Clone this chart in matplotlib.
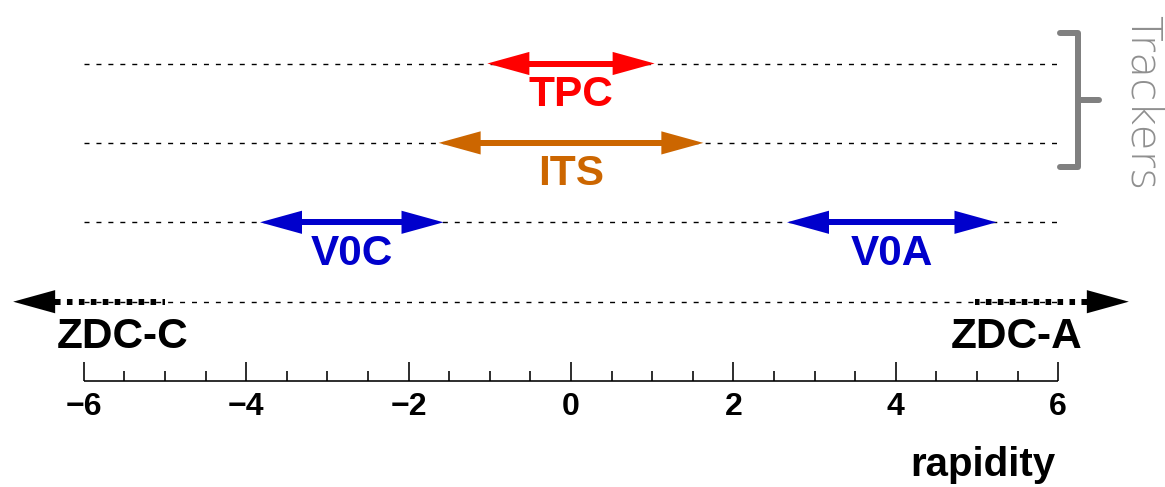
import matplotlib
matplotlib.use('Agg')
import matplotlib.pyplot as plt

plt.rcParams['lines.scale_dashes'] = False
plt.rcParams['font.family'] = ['Liberation Sans', 'DejaVu Sans']

# ---------------- data ----------------
detectors = ['TPC', 'ITS', 'V0C', 'V0A']
eta_min = [-1.03, -1.63, -3.83, 2.66]
eta_max = [1.03, 1.63, -1.57, 5.24]
det_row = [0, 1, 2, 2]
det_colors = ['#ff0000', '#cc6600', '#0000cc', '#0000cc']

zdc_labels = ['ZDC-C', 'ZDC-A']
zdc_inner = [-5.0, 4.98]
zdc_outer = [-6.35, 6.35]
zdc_tip = [-6.87, 6.87]
zdc_row = 3

major_ticks = [-6, -4, -2, 0, 2, 4, 6]
major_labels = ['\u22126', '\u22124', '\u22122', '0', '2', '4', '6']
minor_ticks = [-5.5, -5, -4.5, -3.5, -3, -2.5, -1.5, -1, -0.5,
               0.5, 1, 1.5, 2.5, 3, 3.5, 4.5, 5, 5.5]
x_range = [-6, 6]
axis_title = 'rapidity'
group_label = 'Trackers'

# ---------------- layout ----------------
W, H = 1165, 487
PPU = 81.2      # pixels per rapidity unit
X0 = 571        # pixel of rapidity 0
PT = 0.72       # points per pixel at dpi 100


def px2x(p):
    return (p - X0) / PPU


def row_y(r):
    return 63.5 + 79.4 * r


AXIS_Y = 381
HEAD_LEN = 42 / PPU
HEAD_HW = 11.6

fig = plt.figure(figsize=(W / 100, H / 100), dpi=100)
ax = fig.add_axes([0, 0, 1, 1])
ax.set_xlim(px2x(0), px2x(W))
ax.set_ylim(H, 0)
ax.axis('off')


def head(tip, direction, y, color):
    base = tip - direction * HEAD_LEN
    ax.fill([tip, base, base], [y, y - HEAD_HW, y + HEAD_HW],
            color=color, lw=0, zorder=4)


# dashed guide lines
for r in range(4):
    ax.plot(x_range, [row_y(r)] * 2, color='black', lw=1.0,
            linestyle=(0, (3.6, 5.0)), dash_capstyle='butt', zorder=1)

# detector arrows
for name, lo, hi, r, c in zip(detectors, eta_min, eta_max, det_row, det_colors):
    y = row_y(r)
    ax.plot([lo + HEAD_LEN * 0.5, hi - HEAD_LEN * 0.5], [y, y], color=c,
            lw=6 * PT, solid_capstyle='butt', zorder=3)
    head(lo, -1, y, c)
    head(hi, 1, y, c)
    ax.text((lo + hi) / 2, y + 42.5, name, color=c, fontsize=30.5,
            fontweight='bold', ha='center', va='baseline')

# ZDC
yz = row_y(zdc_row)
for lab, inner, outer, tip in zip(zdc_labels, zdc_inner, zdc_outer, zdc_tip):
    ax.plot([outer, inner], [yz, yz], color='black', lw=6 * PT,
            linestyle=(0, (4.0, 4.6)), dash_capstyle='butt', zorder=3)
    d = 1 if tip > 0 else -1
    head(tip, d, yz, 'black')
    if d < 0:
        ax.text(outer + 0.02, yz + 46, lab, fontsize=30.5, fontweight='bold',
                ha='left', va='baseline', color='black')
    else:
        ax.text(outer - 0.05, yz + 46, lab, fontsize=30.5, fontweight='bold',
                ha='right', va='baseline', color='black')

# rapidity axis
ax.plot(x_range, [AXIS_Y] * 2, color='black', lw=1.6 * PT, solid_capstyle='butt')
ax.vlines(major_ticks, AXIS_Y - 19, AXIS_Y, color='black', lw=1.6 * PT)
ax.vlines(minor_ticks, AXIS_Y - 10, AXIS_Y, color='black', lw=1.6 * PT)
for v, lab in zip(major_ticks, major_labels):
    ax.text(v, 415, lab, fontsize=23, fontweight='bold', ha='center',
            va='baseline', color='black')
ax.text(px2x(1055), 476, axis_title, fontsize=29, fontweight='bold',
        ha='right', va='baseline', color='black')

# Trackers bracket
gray = '#808080'
xa, xb, xc = px2x(1060), px2x(1078), px2x(1099)
ax.plot([xa, xb, xb, xc], [32.5, 32.5, 99.5, 99.5], color=gray, lw=6 * PT,
        solid_joinstyle='round', solid_capstyle='round')
ax.plot([xb, xb, xa], [99.5, 166.5, 166.5], color=gray, lw=6 * PT,
        solid_joinstyle='round', solid_capstyle='round')
ax.text(px2x(1143), 103, group_label, rotation=-90, fontsize=30.5,
        family=['DejaVu Sans'], fontweight='light', color='#8f8f8f',
        ha='center', va='center')

fig.savefig('out.png', dpi=100)
